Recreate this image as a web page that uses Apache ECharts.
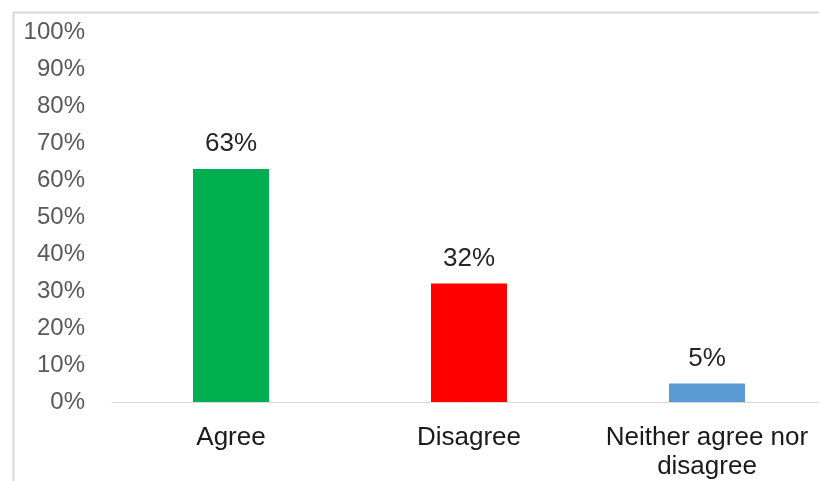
<!DOCTYPE html>
<html>
<head>
<meta charset="utf-8">
<script src="https://cdn.jsdelivr.net/npm/echarts@6/dist/echarts.min.js"></script>
<style>
  html, body { margin: 0; padding: 0; background: #fff; }
  #chart { width: 819px; height: 481px; }
</style>
</head>
<body>
<div id="chart"></div>
<script>
// Survey responses
const categories = ['Agree', 'Disagree', 'Neither agree nor\ndisagree'];
const values = [63, 32, 5];
const barColors = ['#00B050', '#FF0000', '#5B9BD5'];

const FONT = 'Liberation Sans, Arial, sans-serif';
const chart = echarts.init(document.getElementById('chart'));

chart.setOption({
  animation: false,
  backgroundColor: '#ffffff',
  graphic: [{
    type: 'rect',
    left: 11,
    top: 10,
    shape: { width: 900, height: 600 },
    style: { fill: 'none', stroke: '#d9d9d9', lineWidth: 2 },
    silent: true,
    z: -1
  }],
  grid: {
    left: 112, top: 32, width: 714, bottom: 79,
    containLabel: false,
    outerBoundsMode: 'none'
  },
  xAxis: {
    type: 'category',
    data: categories,
    axisLine: { show: true, lineStyle: { color: '#d9d9d9', width: 1 } },
    axisTick: { show: false },
    axisLabel: {
      color: '#1a1a1a',
      fontFamily: FONT,
      fontSize: 26,
      lineHeight: 29,
      margin: 21,
      interval: 0
    }
  },
  yAxis: {
    type: 'value',
    min: 0,
    max: 100,
    interval: 10,
    axisLine: { show: false },
    axisTick: { show: false },
    splitLine: { show: false },
    axisLabel: {
      color: '#595959',
      fontFamily: FONT,
      fontSize: 24,
      margin: 27,
      formatter: '{value}%'
    }
  },
  series: [{
    type: 'bar',
    barWidth: 76,
    data: values.map((v, i) => ({ value: v, itemStyle: { color: barColors[i] } })),
    label: {
      show: true,
      position: 'top',
      distance: 12,
      color: '#262626',
      fontFamily: FONT,
      fontSize: 26,
      formatter: '{c}%'
    }
  }]
});
</script>
</body>
</html>
